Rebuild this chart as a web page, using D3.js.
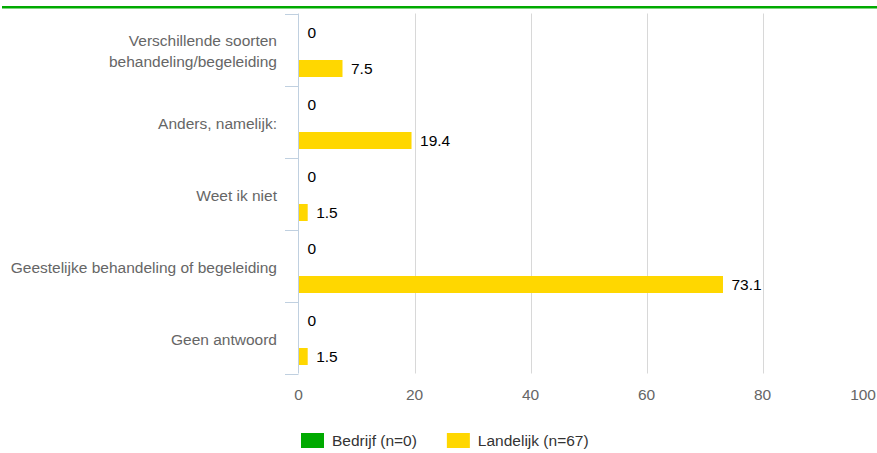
<!DOCTYPE html>
<html>
<head>
<meta charset="utf-8">
<script src="https://cdn.jsdelivr.net/npm/d3@7"></script>
<style>
  html, body { margin: 0; padding: 0; background: #fff; }
  svg { display: block; font-family: "Liberation Sans", Arial, sans-serif; }
</style>
</head>
<body>
<svg id="chart" width="877" height="453"></svg>
<script>
const categories = [
  "Verschillende soorten behandeling/begeleiding",
  "Anders, namelijk:",
  "Weet ik niet",
  "Geestelijke behandeling of begeleiding",
  "Geen antwoord"
];
const seriesNames = ["Bedrijf (n=0)", "Landelijk (n=67)"];
const bedrijf = [0, 0, 0, 0, 0];
const landelijk = [7.5, 19.4, 1.5, 73.1, 1.5];
const xTicks = [0, 20, 40, 60, 80, 100];
const colors = ["#00AA00", "#FFD700"];

const svg = d3.select("#chart");
const W = 877, H = 453;
const fontSize = 15.5;

// Top green rule
svg.append("rect").attr("x", 2).attr("y", 6).attr("width", W - 2).attr("height", 2.5).attr("fill", "#00AA00");

const x = d3.scaleLinear().domain([0, 100]).range([298.5, 878.5]);
const y = d3.scaleBand().domain(categories).range([13.5, 373.5]).padding(0);
const series = [bedrijf, landelijk];
const yInner = d3.scaleBand().domain([0, 1]).range([1, y.bandwidth() + 1]).padding(0);
const barH = 17;

// Gridlines
svg.append("g").selectAll("line").data(xTicks.filter(t => t > 0)).join("line")
  .attr("x1", d => Math.round(x(d)) + 0.5).attr("x2", d => Math.round(x(d)) + 0.5)
  .attr("y1", 13.5).attr("y2", 373.5)
  .attr("stroke", "#D8D8D8").attr("stroke-width", 1);

// X tick labels (last one kept inside the frame)
svg.append("g").selectAll("text").data(xTicks).join("text")
  .attr("x", d => Math.min(x(d), W - 1))
  .attr("y", 400)
  .attr("text-anchor", d => x(d) + 14 > W ? "end" : "middle")
  .attr("font-size", fontSize).attr("fill", "#666")
  .text(d => d);

// Category axis line and ticks
const axisColor = "#C0D0E0";
svg.append("line").attr("x1", 298.5).attr("x2", 298.5).attr("y1", 13.5).attr("y2", 373.5)
  .attr("stroke", axisColor).attr("stroke-width", 1);
const bounds = categories.map(c => y(c)).concat([y.range()[1]]);
svg.append("g").selectAll("line").data(bounds).join("line")
  .attr("x1", 285).attr("x2", 298.5)
  .attr("y1", d => Math.round(d) + 0.5).attr("y2", d => Math.round(d) + 0.5)
  .attr("stroke", axisColor).attr("stroke-width", 1);

// Category labels with wrapping
const labelG = svg.append("g");
categories.forEach(cat => {
  const t = labelG.append("text")
    .attr("text-anchor", "end").attr("font-size", fontSize).attr("fill", "#666");
  const words = cat.split(" ");
  const lines = [];
  let cur = [];
  const probe = t.append("tspan");
  words.forEach(w => {
    const trial = cur.concat([w]).join(" ");
    probe.text(trial);
    if (probe.node().getComputedTextLength() > 275 && cur.length) {
      lines.push(cur.join(" "));
      cur = [w];
    } else cur.push(w);
  });
  lines.push(cur.join(" "));
  probe.remove();
  const lh = 21;
  const cy = y(cat) + y.bandwidth() / 2 + 2;
  const startY = cy - (lines.length - 1) * lh / 2;
  lines.forEach((ln, i) => {
    t.append("tspan").attr("x", 277).attr("y", startY + i * lh).attr("dy", "0.35em").text(ln);
  });
});

// Bars and data labels
series.forEach((vals, si) => {
  const g = svg.append("g");
  categories.forEach((cat, ci) => {
    const cy = y(cat) + yInner(si) + yInner.bandwidth() / 2;
    g.append("rect")
      .attr("x", x(0) + 0.5).attr("y", cy - barH / 2)
      .attr("width", Math.max(0, x(vals[ci]) - x(0)))
      .attr("height", barH).attr("fill", colors[si]);
    g.append("text")
      .attr("x", x(vals[ci]) + 9).attr("y", cy).attr("dy", "0.35em")
      .attr("font-size", fontSize).attr("fill", "#000")
      .text(vals[ci]);
  });
});

// Legend
const legend = svg.append("g");
let lx = 301;
seriesNames.forEach((name, i) => {
  legend.append("rect").attr("x", lx).attr("y", 433).attr("width", 23).attr("height", 15).attr("fill", colors[i]);
  const t = legend.append("text").attr("x", lx + 31).attr("y", 440.5).attr("dy", "0.35em")
    .attr("font-size", fontSize).attr("fill", "#333").text(name);
  lx += 31 + t.node().getComputedTextLength() + 30;
});
</script>
</body>
</html>
